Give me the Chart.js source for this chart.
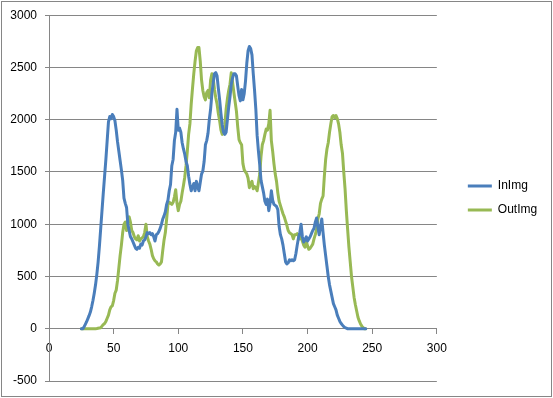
<!DOCTYPE html>
<html>
<head>
<meta charset="utf-8">
<script src="https://cdn.jsdelivr.net/npm/chart.js@4/dist/chart.umd.min.js"></script>
<style>
  html, body { margin: 0; padding: 0; background: #ffffff; }
  #wrap { position: relative; width: 553px; height: 398px; }
</style>
</head>
<body>
<div id="wrap"><canvas id="c" width="553" height="398"></canvas></div>
<script>
// ---- data ----
const seriesNames = ["InImg", "OutImg"];

const binX = [
  25,26,27,28,29,30,31,32,33,34,35,36,37,38,39,40,41,42,43,44,45,46,47,48,49,
  50,51,52,53,54,55,56,57,58,59,60,61,62,63,64,65,66,67,68,69,70,71,72,73,74,
  75,76,77,78,79,80,81,82,83,84,85,86,87,88,89,90,91,92,93,94,95,96,97,98,99,
  100,101,102,103,104,105,106,107,108,109,110,111,112,113,114,115,116,117,118,119,120,121,122,123,124,
  125,126,127,128,129,130,131,132,133,134,135,136,137,138,139,140,141,142,143,144,145,146,147,148,149,
  150,151,152,153,154,155,156,157,158,159,160,161,162,163,164,165,166,167,168,169,170,171,172,173,174,
  175,176,177,178,179,180,181,182,183,184,185,186,187,188,189,190,191,192,193,194,195,196,197,198,199,
  200,201,202,203,204,205,206,207,208,209,210,211,212,213,214,215,216,217,218,219,220,221,222,223,224,
  225,226,227,228,229,230,231,232,233,234,235,236,237,238,239,240,241,242,243,244,245
];

const inImg = [
  0,0,15,40,65,95,125,160,210,270,340,420,520,640,790,960,1130,1300,1460,1620,1800,1980,2030,2010,2050,
  2030,1990,1900,1790,1700,1610,1520,1420,1250,1200,1160,1000,940,880,860,830,800,770,760,780,770,810,800,840,850,
  880,920,910,920,900,910,880,840,900,910,930,960,1000,1050,1080,1120,1190,1230,1320,1380,1560,1620,1800,1880,2100,
  1900,1920,1880,1780,1720,1670,1600,1560,1460,1380,1320,1360,1390,1320,1410,1360,1320,1400,1480,1510,1600,1760,1800,1870,2000,
  2100,2250,2350,2440,2450,2420,2300,2190,2060,1950,1880,1860,1880,2000,2120,2220,2340,2400,2440,2440,2420,2320,2230,2180,2290,
  2190,2250,2370,2540,2660,2700,2680,2620,2440,2280,2100,1850,1700,1570,1420,1360,1300,1220,1190,1240,1130,1200,1320,1230,1190,
  1180,1170,1140,980,900,860,800,720,640,620,630,660,650,660,650,660,720,800,870,920,1000,880,830,850,880,
  840,860,880,910,940,960,1020,1060,970,900,980,1050,920,800,700,600,500,420,360,300,240,210,180,130,100,
  70,50,35,20,10,5,0,0,0,0,0,0,0,0,0,0,0,0,0,0,0
];

const outImg = [
  0,0,0,0,0,0,0,0,0,0,0,0,2,5,8,10,25,40,50,70,100,130,180,210,220,
  270,340,370,460,580,700,800,920,1000,1020,940,1040,1070,1020,940,920,880,860,850,890,840,860,870,880,920,
  1000,880,840,810,760,700,670,650,640,620,610,620,640,750,850,920,1050,1190,1210,1200,1190,1210,1260,1330,1200,
  1130,1190,1220,1300,1370,1450,1560,1700,1860,1960,2150,2300,2440,2560,2660,2690,2690,2560,2380,2280,2220,2190,2260,2280,2210,
  2380,2440,2400,2290,2210,2150,2060,1990,1900,1860,1870,1950,2100,2200,2280,2340,2450,2360,2260,2170,2080,1930,1810,1780,1760,
  1580,1520,1500,1480,1440,1350,1390,1410,1340,1360,1350,1320,1400,1480,1650,1760,1800,1860,1910,1900,1960,2090,1800,1700,1580,
  1480,1410,1300,1220,1180,1140,1100,1070,1030,990,940,920,910,900,860,900,900,910,890,860,880,840,800,780,840,
  790,760,770,790,810,860,900,950,1050,1100,1200,1240,1270,1460,1620,1720,1780,1880,1960,2030,2040,2020,2040,2010,1960,
  1880,1760,1680,1500,1340,1130,950,780,640,500,400,300,230,170,110,75,45,25,10,0,0
];

const xTicks = [0, 50, 100, 150, 200, 250, 300];
const yTicks = [-500, 0, 500, 1000, 1500, 2000, 2500, 3000];

// ---- chart ----
const toPoints = (ys) => binX.map((x, i) => ({ x: x, y: ys[i] }));
const GRID = '#868686';
const FONT = { family: '"Liberation Sans", Arial, sans-serif', size: 12 };

const frame = {
  id: 'frame',
  beforeDraw(chart) {
    const ctx = chart.ctx;
    ctx.save();
    ctx.fillStyle = '#ffffff';
    ctx.fillRect(0, 0, chart.width, chart.height);
    ctx.strokeStyle = GRID;
    ctx.lineWidth = 1;
    ctx.strokeRect(1.5, 1.5, 550, 395);
    ctx.restore();
  }
};

new Chart(document.getElementById('c'), {
  type: 'scatter',
  data: {
    datasets: [
      {
        label: seriesNames[0],
        data: toPoints(inImg),
        showLine: true,
        borderColor: '#4A7EBB',
        backgroundColor: '#4A7EBB',
        borderWidth: 3,
        pointRadius: 0,
        tension: 0,
        borderJoinStyle: 'round',
        borderCapStyle: 'round'
      },
      {
        label: seriesNames[1],
        data: toPoints(outImg),
        showLine: true,
        borderColor: '#98B954',
        backgroundColor: '#98B954',
        borderWidth: 3,
        pointRadius: 0,
        tension: 0,
        borderJoinStyle: 'round',
        borderCapStyle: 'round'
      }
    ]
  },
  options: {
    responsive: false,
    animation: false,
    devicePixelRatio: 1,
    layout: { padding: { top: 15, bottom: 17, left: 0, right: 6 } },
    scales: {
      x: {
        type: 'linear',
        position: { y: 0 },
        min: xTicks[0],
        max: xTicks[xTicks.length - 1],
        afterBuildTicks: (s) => { s.ticks = xTicks.map(v => ({ value: v })); },
        grid: { drawOnChartArea: false, drawTicks: true, tickLength: 5, color: GRID },
        border: { display: true, color: GRID, width: 1 },
        ticks: { color: '#000', font: FONT, padding: 8, maxRotation: 0, callback: (v) => String(v) }
      },
      y: {
        type: 'linear',
        position: 'left',
        min: yTicks[0],
        max: yTicks[yTicks.length - 1],
        afterBuildTicks: (s) => { s.ticks = yTicks.map(v => ({ value: v })); },
        afterFit: (s) => { s.width = 49; },
        grid: { drawOnChartArea: true, drawTicks: true, tickLength: 4, color: GRID },
        border: { display: true, color: GRID, width: 1 },
        ticks: { color: '#000', font: FONT, padding: 8, callback: (v) => String(v) }
      },
      gap: {
        type: 'linear',
        position: 'right',
        display: true,
        min: 0, max: 1,
        afterFit: (s) => { s.width = 19; },
        grid: { display: false },
        border: { display: false },
        ticks: { display: false }
      }
    },
    plugins: {
      legend: {
        position: 'right',
        align: 'center',
        labels: {
          color: '#000',
          font: FONT,
          boxWidth: 24,
          boxHeight: 3,
          padding: 12,
          generateLabels: (chart) =>
            Chart.defaults.plugins.legend.labels.generateLabels(chart).map(l => Object.assign(l, { lineWidth: 0 }))
        }
      },
      tooltip: { enabled: false }
    }
  },
  plugins: [frame]
});
</script>
</body>
</html>
